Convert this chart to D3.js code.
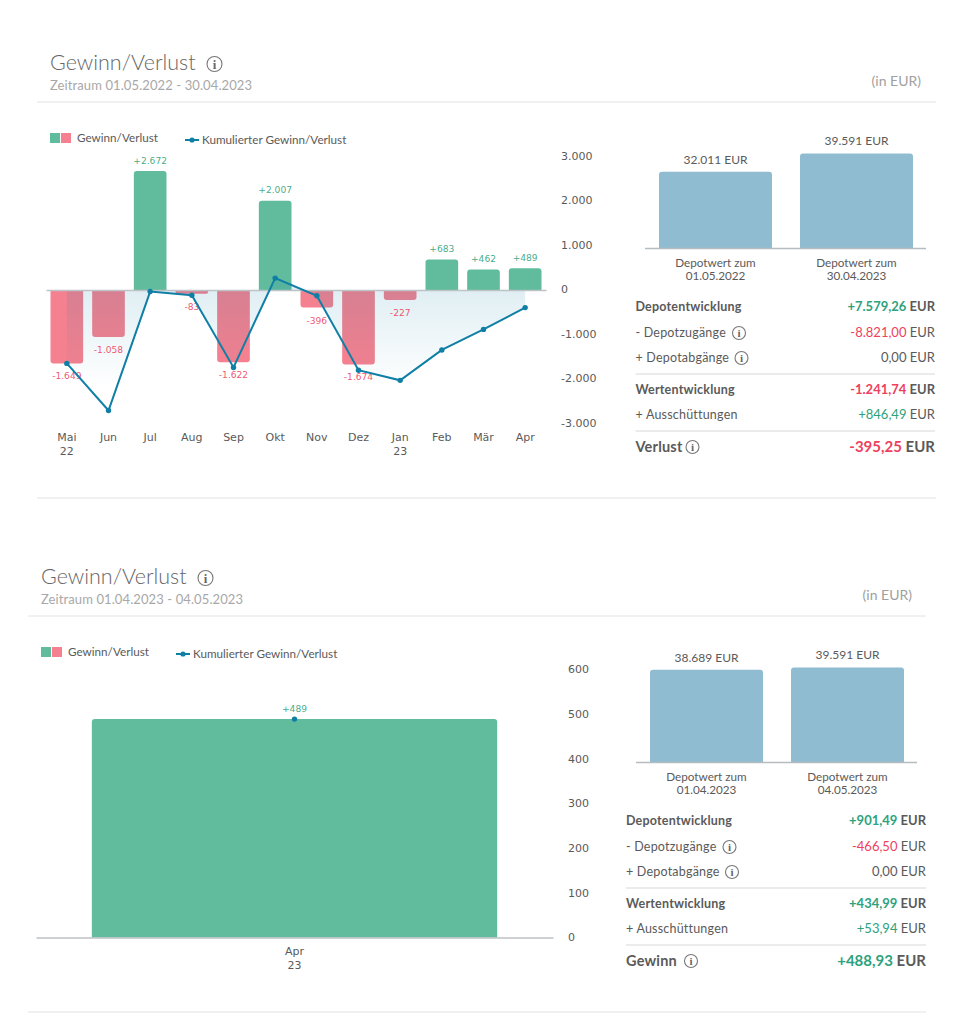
<!DOCTYPE html>
<html><head><meta charset="utf-8">
<script src="https://cdn.jsdelivr.net/npm/d3@7"></script>
<style>
html,body{margin:0;padding:0;background:#fff}
svg{display:block}
text{font-family:Lato,sans-serif}
.tick text,.val{font-family:"DejaVu Sans",sans-serif}
</style></head><body>
<svg id="c" width="972" height="1024"></svg>
<script>
// ---------- data: first panel ----------
const monthsA = ["Mai\n22","Jun","Jul","Aug","Sep","Okt","Nov","Dez","Jan\n23","Feb","Mär","Apr"];
const gainsA = [-1649,-1058,2672,-83,-1622,2007,-396,-1674,-227,683,462,489];
const cumulativeA = [-1649,-2707,-35,-118,-1740,267,-129,-1803,-2030,-1347,-885,-396];
const ticksA = [3000,2000,1000,0,-1000,-2000,-3000];
const periodA = "Zeitraum 01.05.2022 - 30.04.2023";
const depotLabelsA = ["Depotwert zum\n01.05.2022","Depotwert zum\n30.04.2023"];
const depotValuesA = [32011,39591];
const rowLabels = ["Depotentwicklung","- Depotzugänge","+ Depotabgänge","Wertentwicklung","+ Ausschüttungen"];
const rowValuesA = ["+7.579,26","-8.821,00","0,00","-1.241,74","+846,49"];
const resultLabelA = "Verlust";
const resultValueA = "-395,25";
// ---------- data: second panel ----------
const monthsB = ["Apr\n23"];
const gainsB = [489];
const cumulativeB = [489];
const ticksB = [600,500,400,300,200,100,0];
const periodB = "Zeitraum 01.04.2023 - 04.05.2023";
const depotLabelsB = ["Depotwert zum\n01.04.2023","Depotwert zum\n04.05.2023"];
const depotValuesB = [38689,39591];
const rowValuesB = ["+901,49","-466,50","0,00","+434,99","+53,94"];
const resultLabelB = "Gewinn";
const resultValueB = "+488,93";

const GREEN="#61bc9d", PINK="#f5808f", BLUE="#0f7fa6", TXT="#5a5a5a", GREENT="#2ea27c", REDT="#ee3f5e";
const de=d3.formatLocale({decimal:",",thousands:".",grouping:[3],currency:["","€"],minus:"-"});
const fmt=de.format(",d"), fmtS=de.format("+,d");
const svg=d3.select("#c");

function info(g,x,y,r){
  const i=g.append("g").attr("transform",`translate(${x},${y})`);
  i.append("circle").attr("r",r).attr("fill","none").attr("stroke","#777").attr("stroke-width",1.1);
  i.append("text").attr("text-anchor","middle").attr("y",r*0.6).attr("font-size",r*1.7).attr("font-weight",700)
    .attr("fill","#666").style("font-family","'Liberation Serif',serif").text("i");
}
function barPath(x,y0,y1,w,r){
  const s=y1<y0?1:-1;
  return `M${x},${y0}V${y1+s*r}Q${x},${y1} ${x+r},${y1}H${x+w-r}Q${x+w},${y1} ${x+w},${y1+s*r}V${y0}Z`;
}
function lines(sel,str,dy){
  str.split("\n").forEach((s,i)=>sel.append("tspan").attr("x",sel.attr("x")||0).attr("dy",i?dy:0).text(s));
}

function panel(o,id){
  const g=svg.append("g");
  const L=o.left,R=o.right;
  // header
  g.append("text").attr("x",L).attr("y",o.top+19).attr("font-size",21.5).attr("font-weight",300).attr("fill","#666")
    .text("Gewinn/Verlust");
  info(g,L+164.5,o.top+13,7.5);
  g.append("text").attr("x",L).attr("y",o.top+38.5).attr("font-size",13).attr("fill","#a8a8a8").attr("letter-spacing",.1).text(o.period);
  g.append("text").attr("x",R-14).attr("y",o.top+34.5).attr("text-anchor","end").attr("font-size",14).attr("fill","#a0a0a0").text("(in EUR)");
  g.append("line").attr("x1",L-13).attr("x2",R+o.tableShift*2).attr("y1",o.top+51).attr("y2",o.top+51).attr("stroke","#e2e2e2");
  g.append("line").attr("x1",L-13).attr("x2",R+o.tableShift*2).attr("y1",o.top+447).attr("y2",o.top+447).attr("stroke","#e2e2e2");
  // legend
  const ly=o.top+87;
  g.append("rect").attr("x",L).attr("y",ly-5).attr("width",10).attr("height",10).attr("fill",GREEN);
  g.append("rect").attr("x",L+11).attr("y",ly-5).attr("width",10).attr("height",10).attr("fill",PINK);
  g.append("text").attr("x",L+27).attr("y",ly+4).attr("font-size",11.7).attr("fill",TXT).text("Gewinn/Verlust");
  g.append("line").attr("x1",L+135).attr("x2",L+149).attr("y1",ly+2).attr("y2",ly+2).attr("stroke",BLUE).attr("stroke-width",2);
  g.append("circle").attr("cx",L+142).attr("cy",ly+2).attr("r",2.6).attr("fill",BLUE);
  g.append("text").attr("x",L+152).attr("y",ly+6).attr("font-size",11.7).attr("fill",TXT).text("Kumulierter Gewinn/Verlust");
  // main chart
  const x=d3.scaleBand().domain(o.months).range([o.x0,o.x1]).paddingInner(.216).paddingOuter(.108);
  const y=d3.scaleLinear().domain(o.yDomain).range(o.yRange);
  const axY=g.append("g").attr("transform",`translate(${o.axisX},0)`)
    .call(d3.axisRight(y).tickValues(o.ticks).tickSize(0).tickPadding(0).tickFormat(fmt));
  axY.select(".domain").remove();
  axY.selectAll("text").attr("font-size",11).attr("fill",TXT).attr("dy",o.tickDy);
  const cx=d=>x(d)+x.bandwidth()/2;
  g.selectAll(".bar").data(o.gains).join("path").attr("class","bar")
    .attr("d",(v,i)=>barPath(x(o.months[i]),y(0),y(v),x.bandwidth(),Math.min(3,Math.abs(y(v)-y(0))/2)))
    .attr("fill",v=>v>=0?GREEN:PINK);
  if(o.months.length>1){
    const gid="grad"+id;
    const gr=svg.append("defs").append("linearGradient").attr("id",gid).attr("gradientUnits","userSpaceOnUse")
      .attr("x1",0).attr("x2",0).attr("y1",y(0)).attr("y2",y(-2200));
    gr.append("stop").attr("offset",0).attr("stop-color",BLUE).attr("stop-opacity",.13);
    gr.append("stop").attr("offset",1).attr("stop-color",BLUE).attr("stop-opacity",0);
    const area=d3.area().x((v,i)=>cx(o.months[i])).y0(y(0)).y1(v=>y(v));
    g.append("path").datum(o.cumulative).attr("d",area).attr("fill",`url(#${gid})`);
  }
  const axX=g.append("g").attr("transform",`translate(0,${y(0)})`)
    .call(d3.axisBottom(x).tickSize(0).tickPadding(0));
  axX.select(".domain").attr("stroke","#bdc2c5").attr("stroke-width",1.5);
  axX.selectAll("text").each(function(d){
    const t=d3.select(this); t.text(null).attr("x",0).attr("y",o.labelY-y(0)).attr("dy",0)
      .attr("font-size",11).attr("fill",TXT);
    lines(t,d,14);
  });
  g.selectAll(".lab").data(o.gains).join("text").attr("class","lab val")
    .attr("x",(v,i)=>cx(o.months[i]))
    .attr("y",v=>v>=0?y(v)-7.5:y(v)+16)
    .attr("text-anchor","middle").attr("font-size",9.1)
    .attr("fill",v=>v>=0?GREENT:REDT).attr("fill-opacity",.9)
    .text(v=>v>=0?fmtS(v):fmt(v));
  const line=d3.line().x((v,i)=>cx(o.months[i])).y(v=>y(v));
  g.append("path").datum(o.cumulative).attr("d",line).attr("fill","none").attr("stroke",BLUE).attr("stroke-width",2);
  g.selectAll(".dot").data(o.cumulative).join("circle").attr("class","dot")
    .attr("cx",(v,i)=>cx(o.months[i])).attr("cy",v=>y(v)).attr("r",2.7).attr("fill",BLUE);
  // depot chart
  const base=o.top+197.5;
  const dy=d3.scaleLinear().domain([0,40000]).range([base,base-96]);
  const dx=d3.scaleBand().domain(o.depotLabels).range([R-276,R-276+141+113]).paddingInner(28/141).paddingOuter(0);
  const dcx=d=>dx(d)+dx.bandwidth()/2;
  g.selectAll(".dbar").data(o.depotValues).join("path").attr("class","dbar")
    .attr("d",(v,i)=>barPath(dx(o.depotLabels[i]),dy(0),dy(v),dx.bandwidth(),3)).attr("fill","#90bcd2");
  g.append("line").attr("x1",R-290).attr("x2",R-9).attr("y1",base).attr("y2",base).attr("stroke","#b5bcc0").attr("stroke-width",1.3);
  g.selectAll(".dval").data(o.depotValues).join("text").attr("class","dval")
    .attr("x",(v,i)=>dcx(o.depotLabels[i])).attr("y",v=>dy(v)-8)
    .attr("text-anchor","middle").attr("font-size",12).attr("fill",TXT)
    .text(v=>fmt(v)+" EUR");
  o.depotLabels.forEach(d=>{
    const t=g.append("text").attr("x",dcx(d)).attr("y",base+18).attr("text-anchor","middle")
      .attr("font-size",11.7).attr("fill",TXT);
    d.split("\n").forEach((s,k)=>t.append("tspan").attr("x",dcx(d)).attr("dy",k?13:0).text(s));
  });
  // table
  const rowsY=[260,286,311,343,368], bold=[true,false,false,true,false];
  const XL=R-300+o.tableShift;
  o.rowLabels.forEach((s,i)=>{
    const yy=o.top+rowsY[i];
    g.append("text").attr("x",XL).attr("y",yy).attr("font-size",12.5).attr("font-weight",bold[i]?700:400)
      .attr("fill",TXT).attr("letter-spacing",.2).text(s);
    if(i==1||i==2) info(g,XL+(i==1?103.5:106),yy-4,6.5);
    const v=o.rowValues[i];
    const t=g.append("text").attr("x",R).attr("y",yy).attr("text-anchor","end").attr("font-size",13);
    t.append("tspan").attr("font-weight",bold[i]?700:400).attr("fill",v[0]=="+"?GREENT:v[0]=="-"?REDT:TXT).text(v);
    t.append("tspan").attr("font-weight",bold[i]?700:400).attr("fill",TXT).text(" EUR");
  });
  [323,380].forEach(d=>g.append("line").attr("x1",XL).attr("x2",R).attr("y1",o.top+d).attr("y2",o.top+d).attr("stroke","#d8d8d8"));
  const ry=o.top+401;
  g.append("text").attr("x",XL).attr("y",ry).attr("font-size",14.5).attr("font-weight",700).attr("fill",TXT).attr("letter-spacing",.2).text(o.resultLabel);
  info(g,XL+o.resultInfo,ry-5,6.5);
  const t=g.append("text").attr("x",R).attr("y",ry).attr("text-anchor","end").attr("font-size",15).attr("font-weight",700);
  t.append("tspan").attr("fill",o.resultValue[0]=="+"?GREENT:REDT).text(o.resultValue);
  t.append("tspan").attr("fill",TXT).text(" EUR");
}

panel({left:50,right:935,top:51,tableShift:0.5,tickDy:"0.24em",period:periodA,months:monthsA,gains:gainsA,cumulative:cumulativeA,ticks:ticksA,
  x0:46,x1:546,yDomain:[-3000,3000],yRange:[423.5,156.5],axisX:561,labelY:441,
  depotLabels:depotLabelsA,depotValues:depotValuesA,rowLabels,rowValues:rowValuesA,
  resultLabel:resultLabelA,resultValue:resultValueA,resultInfo:57},"a");
panel({left:41,right:926,top:565,tableShift:0,tickDy:"0.3em",period:periodB,months:monthsB,gains:gainsB,cumulative:cumulativeB,ticks:ticksB,
  x0:36,x1:553,yDomain:[0,600],yRange:[937.5,669.5],axisX:568,labelY:955,
  depotLabels:depotLabelsB,depotValues:depotValuesB,rowLabels,rowValues:rowValuesB,
  resultLabel:resultLabelB,resultValue:resultValueB,resultInfo:65},"b");
</script>
</body></html>
